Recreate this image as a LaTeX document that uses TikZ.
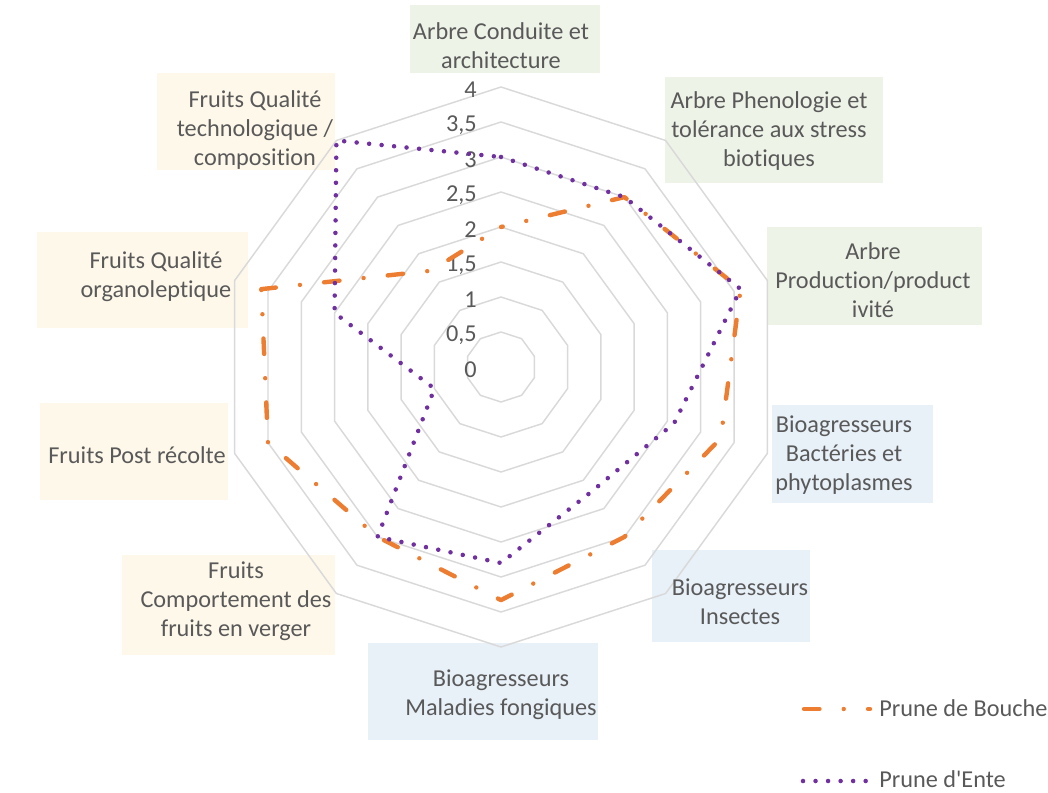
\documentclass[tikz,border=0pt]{standalone}
\usepackage{fontspec}
\setmainfont{Carlito}[Ligatures={TeXOff,CommonOff}]
\usetikzlibrary{positioning}
\definecolor{bouche}{HTML}{ED7D31}
\definecolor{ente}{HTML}{7030A0}
\definecolor{grille}{HTML}{D9D9D9}
\definecolor{texte}{HTML}{595959}
\definecolor{fondarbre}{HTML}{EEF3E8}
\definecolor{fondbio}{HTML}{E8F0F8}
\definecolor{fondfruit}{HTML}{FEF8EA}

\begin{document}
\begin{tikzpicture}[line cap=round,line join=round,x=0.75pt,y=0.75pt,
  lbl/.style={text=texte,align=center,inner sep=0pt,font=\fontsize{18.2}{21.8}\selectfont},
  gridline/.style={draw=grille,line width=1.1pt},
  lignebouche/.style={draw=bouche,line width=3.3pt,dash pattern=on 11.6pt off 18.2pt on 0pt off 18.2pt,dash phase=10.3pt},
  ligneente/.style={draw=ente,line width=3.4pt,dash pattern=on 0pt off 9.4pt}]
\useasboundingbox (-501,-425) rectangle (547,367);
% boxes behind the category names
\fill[fondarbre] (-91,294) rectangle (99,362);
\fill[fondarbre] (164,184) rectangle (382,290);
\fill[fondarbre] (266,42) rectangle (481,140);
\fill[fondbio] (271,-136) rectangle (432,-38);
\fill[fondbio] (151,-275) rectangle (309,-183);
\fill[fondbio] (-133,-373) rectangle (97,-276);
\fill[fondfruit] (-379,-288) rectangle (-166,-188);
\fill[fondfruit] (-461,-133) rectangle (-273,-36);
\fill[fondfruit] (-464,39) rectangle (-253,135);
\fill[fondfruit] (-344,197) rectangle (-166,294);
\foreach \r in {1,...,8}
  \draw[gridline] (90:{35*\r}) \foreach \a in {1,...,9} {-- ({90-36*\a}:{35*\r})} -- cycle;
\foreach \v/\t [count=\i] in {0/0,0.5/{0,5},1/1,1.5/{1,5},2/2,2.5/{2,5},3/3,3.5/{3,5},4/4}
  \node[lbl,anchor=east] (tick\i) at (-24,{70*\v-3}) {\t};
\draw[lignebouche] (90:140) \foreach \v [count=\i] in {3,3.6,3.3,3,3.33,3,3.5,3.6,1.7} {-- ({90-36*\i}:{70*\v})} -- cycle;
\draw[ligneente] (90:210) \foreach \v [count=\i] in {3,3.6,2.6,2.2,2.8,3,1,2.5,4} {-- ({90-36*\i}:{70*\v})} -- cycle;
\node[lbl] (conduite) at (0,321.5) {Arbre Conduite et\\architecture};
\node[lbl] (phenologie) at (268,236) {Arbre Phenologie et\\tolérance aux stress\\biotiques};
\node[lbl] (production) at (372,87) {Arbre\\Production/product\\ivité};
\node[lbl] (bacteries) at (343,-88) {Bioagresseurs\\Bactéries et\\phytoplasmes};
\node[lbl] (insectes) at (239,-235) {Bioagresseurs\\Insectes};
\node[lbl] (maladies) at (0,-328) {Bioagresseurs\\Maladies fongiques};
\node[lbl] (comportement) at (-265,-234) {Fruits\\Comportement des\\fruits en verger};
\node[lbl] (postrecolte) at (-364,-88) {Fruits Post récolte};
\node[lbl] (organo) at (-345,90) {Fruits Qualité\\organoleptique};
\node[lbl] (techno) at (-246,237) {Fruits Qualité\\technologique /\\composition};
% legende
\coordinate (lb1) at (303,-342);
\coordinate (lb2) at (369,-342);
\draw[lignebouche,dash phase=0pt] (lb1) -- (lb2);
\node[lbl,anchor=west] (legbouche) at (378,-341) {Prune de Bouche};
\coordinate (le1) at (302,-414);
\coordinate (le2) at (365,-414);
\draw[ligneente] (le1) -- (le2);
\node[lbl,anchor=west] (legente) at (378,-412) {Prune d'Ente};
\end{tikzpicture}
\end{document}
